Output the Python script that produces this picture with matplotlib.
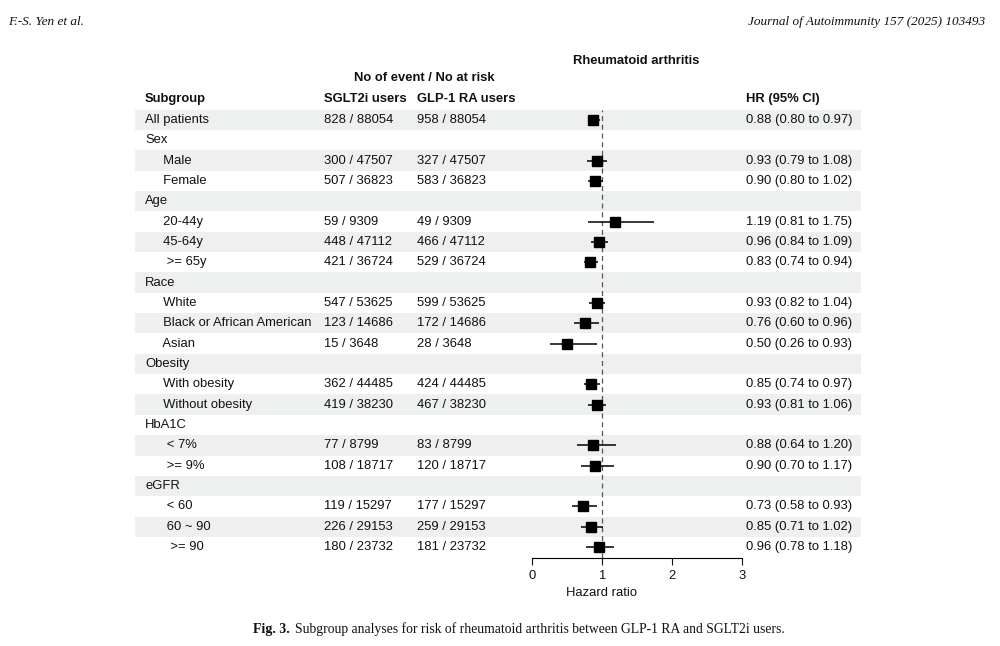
import numpy as np
import matplotlib
matplotlib.use('Agg')
import matplotlib.pyplot as plt
from matplotlib.patches import Rectangle
from matplotlib.transforms import blended_transform_factory

plt.rcParams['font.family'] = ['Liberation Sans', 'DejaVu Sans']

# 数据 / data
labels = ["All patients", "Sex", "     Male", "     Female", "Age",
          "     20-44y", "     45-64y", "      >= 65y", "Race",
          "     White", "     Black or African American", "     Asian",
          "Obesity", "     With obesity", "     Without obesity", "HbA1C",
          "      < 7%", "      >= 9%", "eGFR", "      < 60", "      60 ~ 90",
          "       >= 90"]
sglt2 = ["828 / 88054", "", "300 / 47507", "507 / 36823", "",
         "59 / 9309", "448 / 47112", "421 / 36724", "",
         "547 / 53625", "123 / 14686", "15 / 3648", "",
         "362 / 44485", "419 / 38230", "",
         "77 / 8799", "108 / 18717", "",
         "119 / 15297", "226 / 29153", "180 / 23732"]
glp1 = ["958 / 88054", "", "327 / 47507", "583 / 36823", "",
        "49 / 9309", "466 / 47112", "529 / 36724", "",
        "599 / 53625", "172 / 14686", "28 / 3648", "",
        "424 / 44485", "467 / 38230", "",
        "83 / 8799", "120 / 18717", "",
        "177 / 15297", "259 / 29153", "181 / 23732"]
nan = np.nan
hr = np.array([0.88, nan, 0.93, 0.90, nan, 1.19, 0.96, 0.83, nan, 0.93, 0.76, 0.50,
               nan, 0.85, 0.93, nan, 0.88, 0.90, nan, 0.73, 0.85, 0.96])
lo = np.array([0.80, nan, 0.79, 0.80, nan, 0.81, 0.84, 0.74, nan, 0.82, 0.60, 0.26,
               nan, 0.74, 0.81, nan, 0.64, 0.70, nan, 0.58, 0.71, 0.78])
hi = np.array([0.97, nan, 1.08, 1.02, nan, 1.75, 1.09, 0.94, nan, 1.04, 0.96, 0.93,
               nan, 0.97, 1.06, nan, 1.20, 1.17, nan, 0.93, 1.02, 1.18])
xticks = [0, 1, 2, 3]

W, H = 1000, 646
def fx(px):
    return px / W
def fy(py):
    return 1 - py / H

fig = plt.figure(figsize=(10, 6.46), dpi=100)
ax = fig.add_axes([fx(531.7), fy(558), 210 / W, (558 - 110) / H])
ax.patch.set_alpha(0)
ax.set_xlim(0, 3)
ax.set_ylim(21.54, -0.49)

rows = np.arange(len(labels))
trans = blended_transform_factory(fig.transFigure, ax.transData)
fs = 9.4
tc = '#111111'

# 斑马纹背景
for i in rows[::2]:
    ax.add_patch(Rectangle((fx(135), i - 0.5), fx(861) - fx(135), 1, transform=trans,
                           facecolor='#eef0f0', edgecolor='none', clip_on=False, zorder=0))

ax.axvline(1, color='#555555', lw=0.9, ls=(0, (4, 3)), zorder=1)
ok = ~np.isnan(hr)
ax.hlines(rows[ok], lo[ok], hi[ok], color='black', lw=1.1, zorder=2)
ax.plot(hr[ok], rows[ok], 's', color='black', ms=7.6, zorder=3)

for s in ['top', 'left', 'right']:
    ax.spines[s].set_visible(False)
ax.spines['bottom'].set_linewidth(0.8)
ax.set_yticks([])
ax.set_xticks(xticks)
ax.tick_params(axis='x', length=5, width=0.8, labelsize=fs, pad=3.5, colors=tc)
ax.set_xlabel('Hazard ratio', fontsize=fs, color=tc)
ax.xaxis.set_label_coords(1 / 3, -0.064)

for i in rows:
    ax.text(fx(145), i, labels[i], transform=trans, va='center', fontsize=fs, color=tc)
    ax.text(fx(324), i, sglt2[i], transform=trans, va='center', fontsize=fs, color=tc)
    ax.text(fx(417), i, glp1[i], transform=trans, va='center', fontsize=fs, color=tc)
    if ok[i]:
        ax.text(fx(746), i, '%.2f (%.2f to %.2f)' % (hr[i], lo[i], hi[i]), transform=trans,
                va='center', fontsize=fs, color=tc)

fig.text(fx(145), fy(99), 'Subgroup', weight='bold', va='center', fontsize=fs, color=tc)
fig.text(fx(324), fy(99), 'SGLT2i users', weight='bold', va='center', fontsize=fs, color=tc)
fig.text(fx(417), fy(99), 'GLP-1 RA users', weight='bold', va='center', fontsize=fs, color=tc)
fig.text(fx(746), fy(99), 'HR (95% CI)', weight='bold', va='center', fontsize=fs, color=tc)
fig.text(fx(424.5), fy(78), 'No of event / No at risk', weight='bold', ha='center',
         va='center', fontsize=fs, color=tc)
fig.text(fx(636), fy(61), 'Rheumatoid arthritis', weight='bold', ha='center',
         va='center', fontsize=fs, color=tc)

# 页眉和图注
serif = ['Liberation Serif', 'DejaVu Serif']
fig.text(fx(8), fy(21.7), 'F.-S. Yen et al.', family=serif, style='italic',
         va='center', fontsize=9.5, color=tc)
fig.text(fx(985), fy(21.7), 'Journal of Autoimmunity 157 (2025) 103493', family=serif,
         style='italic', ha='right', va='center', fontsize=9.5, color=tc)
cap1 = fig.text(fx(253), fy(629), 'Fig. 3.', family=serif, weight='bold', va='center',
                fontsize=10, color=tc)
r = fig.canvas.get_renderer()
bb = cap1.get_window_extent(r)
fig.text((bb.x1 + 5) / W, fy(629),
         'Subgroup analyses for risk of rheumatoid arthritis between GLP-1 RA and SGLT2i users.',
         family=serif, va='center', fontsize=9.85, color=tc)

fig.savefig('out.png', dpi=100)
